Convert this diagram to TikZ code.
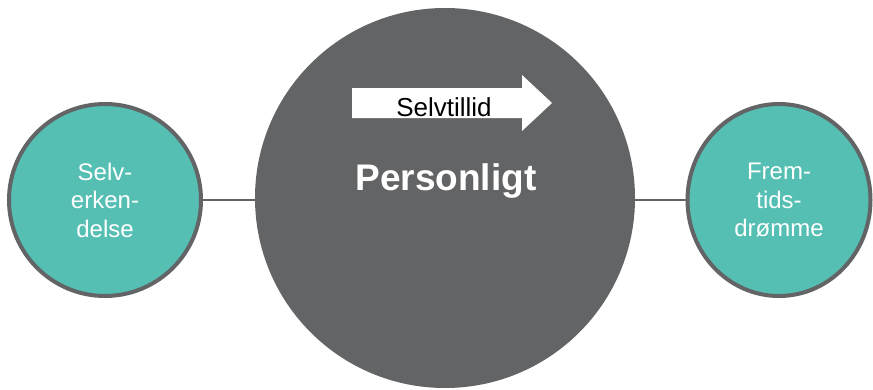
\documentclass[tikz,border=0pt]{standalone}
\usepackage{fontspec}
\setmainfont{Liberation Sans}
\usetikzlibrary{shapes.geometric}
\definecolor{teal}{HTML}{55BFB3}
\definecolor{biggray}{HTML}{636466}
\definecolor{rimgray}{HTML}{636466}
\tikzset{
  smallcirc/.style={fill=teal, draw=rimgray, line width=4pt, inner sep=0pt, outer sep=0pt,
    text=white, align=center, font=\fontsize{24}{28.5}\selectfont},
  link/.style={draw=rimgray, line width=2pt},
}
\begin{document}
\begin{tikzpicture}[x=1pt,y=-1pt]
\useasboundingbox (0,0) rectangle (873,389);
\node[circle, fill=biggray, minimum size=380pt, inner sep=0pt, outer sep=0pt] (big) at (445,198) {};
\node[smallcirc, circle, minimum size=192pt] (left) at (105,200) {Selv-\\erken-\\delse};
\node[smallcirc, ellipse, minimum width=183pt, minimum height=192pt] (right) at (779,200) {Frem-\\tids-\\drømme};
\draw[link] (left.east) -- (left.east -| big.west);
\draw[link] (right.west -| big.east) -- (right.west);
\fill[white] (352,88) -- (522,88) -- (522,75) -- (552,103) -- (522,131) -- (522,118) -- (352,118) -- cycle;
\node[anchor=base, font=\fontsize{26}{30}\selectfont, text=black, inner sep=0pt] (selvtillid) at (444,116) {Selvtillid};
\node[anchor=base, font=\fontsize{37}{42}\selectfont\bfseries, text=white, inner sep=0pt] (personligt) at (446,190) {Personligt};
\end{tikzpicture}
\end{document}
